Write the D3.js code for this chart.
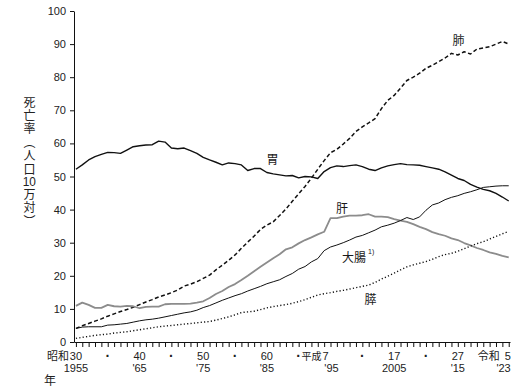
<!DOCTYPE html>
<html lang="ja">
<head>
  <meta charset="utf-8">
  <title>部位別がん死亡率の推移</title>
  <script type="text/javascript" src="https://d3js.org/d3.v7.min.js"></script>
  <style>
    body { margin: 0; background: #fff; }
    #chart { position: relative; width: 520px; height: 389px; }
    .tick-lbl { font-family: "Liberation Sans", Arial, sans-serif; font-size: 11px; }
    .jp { font-family: "Noto Sans CJK JP", sans-serif; }
    /* vertical y-axis title */
    .ytitle {
      position: absolute; left: 22px; top: 96px;
      writing-mode: vertical-rl;
      font-family: "Noto Sans CJK JP", sans-serif;
      font-size: 12px; line-height: 14px;
      letter-spacing: 1.4px;
      color: #222;
    }
    .ytitle .tcy { text-combine-upright: all; font-family: "Liberation Sans", Arial, sans-serif; }
  </style>
</head>
<body>
  <div id="chart"></div>
  <script type="text/javascript">
    // years 1955 (昭和30) .. 2023 (令和5)
    var years = d3.range(1955, 2024);

    var stomach = [52.2, 53.5, 55.0, 56.0, 56.7, 57.3, 57.2, 57.0, 58.0, 59.0,
      59.3, 59.5, 59.6, 60.7, 60.4, 58.6, 58.4, 58.6, 57.8, 57.0,
      55.8, 55.0, 54.3, 53.5, 54.1, 53.9, 53.5, 51.8, 52.4, 52.4,
      51.2, 50.8, 50.5, 50.2, 50.3, 49.6, 50.0, 49.9, 49.4, 51.5,
      52.7, 53.2, 53.0, 53.3, 53.5, 53.0, 52.2, 51.8, 52.6, 53.2,
      53.6, 53.9, 53.6, 53.5, 53.4, 53.0, 52.6, 52.2, 51.4, 50.4,
      49.4, 48.8, 47.6, 46.8, 46.1, 45.7, 44.9, 43.8, 42.6];

    var lung = [4.1, 4.9, 5.6, 6.3, 7.0, 7.8, 8.5, 9.2, 9.8, 10.5,
      11.3, 12.1, 12.8, 13.6, 14.2, 14.9, 15.7, 16.9, 17.5, 18.2,
      19.2, 20.2, 21.8, 23.2, 24.7, 26.3, 28.3, 30.2, 32.0, 34.0,
      35.3, 36.3, 38.2, 40.2, 42.5, 44.8, 47.0, 49.5, 52.2, 54.8,
      57.2, 58.2, 59.8, 61.5, 63.6, 65.0, 66.2, 67.5, 70.5, 73.0,
      74.5, 76.7, 79.0, 80.0, 81.2, 82.7, 83.6, 84.7, 85.8, 87.2,
      86.7, 87.7, 87.0, 88.5, 88.8, 89.2, 90.0, 90.8, 90.0];

    var liver = [10.9, 11.9, 11.2, 10.3, 10.3, 11.2, 10.8, 10.7, 10.9, 10.8,
      10.2, 10.6, 10.7, 10.7, 11.4, 11.5, 11.5, 11.5, 11.6, 11.9,
      12.3, 13.3, 14.5, 15.4, 16.6, 17.5, 18.7, 20.0, 21.4, 22.7,
      24.0, 25.3, 26.5, 28.0, 28.6, 29.8, 30.8, 31.6, 32.5, 33.3,
      37.4, 37.4, 37.9, 38.2, 38.2, 38.3, 38.6, 37.9, 37.9, 37.7,
      37.1, 36.7, 36.3, 35.6, 34.8, 34.1, 33.2, 32.6, 32.1, 31.3,
      30.8, 29.9, 29.2, 28.4, 27.8, 27.1, 26.6, 26.0, 25.6];

    var colorectal = [4.1, 4.5, 4.6, 4.6, 4.6, 5.1, 5.2, 5.4, 5.6, 6.0,
      6.4, 6.7, 6.9, 7.2, 7.6, 8.0, 8.4, 8.8, 9.1, 9.6,
      10.4, 11.0, 11.8, 12.6, 13.3, 14.0, 14.6, 15.4, 16.1, 16.8,
      17.6, 18.2, 18.8, 19.8, 20.7, 22.0, 22.8, 24.2, 25.2, 27.6,
      28.7, 29.3, 30.0, 30.8, 31.7, 32.2, 33.0, 33.8, 34.8, 35.3,
      35.9, 36.7, 37.6, 37.0, 37.8, 39.8, 41.4, 42.0, 43.0, 43.7,
      44.2, 44.9, 45.4, 46.0, 46.7, 46.9, 47.1, 47.2, 47.2];

    var pancreas = [1.1, 1.4, 1.7, 2.0, 2.2, 2.4, 2.7, 2.9, 3.1, 3.4,
      3.7, 4.0, 4.3, 4.6, 4.8, 5.0, 5.2, 5.4, 5.6, 5.8,
      6.0, 6.2, 6.6, 7.1, 7.6, 8.2, 8.9, 9.1, 9.3, 9.8,
      10.3, 10.7, 11.0, 11.3, 11.7, 12.2, 12.8, 13.5, 14.2, 14.6,
      14.9, 15.3, 15.6, 16.0, 16.4, 16.8, 17.2, 18.0, 19.0, 19.9,
      20.8, 21.8, 22.7, 23.3, 23.8, 24.3, 25.0, 25.8, 26.4, 26.8,
      27.4, 28.2, 29.0, 29.7, 30.3, 31.1, 31.9, 32.7, 33.4];

    // x-axis labels
    var labelYears  = [1955, 1960, 1965, 1970, 1975, 1980, 1985, 1990, 1995, 2000, 2005, 2010, 2015, 2023];
    var labelTop    = ["30", "·", "40", "·", "50", "·", "60", "·", "7", "·", "17", "·", "27", "5"];
    var labelBottom = ["1955", "", "'65", "", "'75", "", "'85", "", "'95", "", "2005", "", "'15", "'23"];
    var eraNames = [{ year: 1955, name: "昭和" }, { year: 1995, name: "平成" }, { year: 2023, name: "令和" }];
    var yTicks = [0, 10, 20, 30, 40, 50, 60, 70, 80, 90, 100];

    var width = 520, height = 389;
    var svg = d3.select("#chart").append("svg")
      .attr("width", width).attr("height", height);

    var x = d3.scaleLinear().domain([1954.7, 2023.2]).range([74, 510]);
    var y = d3.scaleLinear().domain([0, 100]).range([342, 11]);

    // y axis
    var yAxis = d3.axisLeft(y).tickValues(yTicks).tickSize(4).tickSizeOuter(0);
    var gy = svg.append("g").attr("transform", "translate(74,0)").call(yAxis);
    gy.select(".domain").attr("stroke", "#111");
    gy.selectAll(".tick line").attr("stroke", "#111");
    gy.selectAll(".tick text").attr("class", "tick-lbl").attr("x", -8)
      .attr("font-size", null).attr("font-family", null).attr("fill", "#222");

    // x axis, a tick for each year
    var xAxis = d3.axisBottom(x).tickValues(years).tickSize(5).tickSizeOuter(0).tickFormat("");
    var gx = svg.append("g").attr("transform", "translate(0,342)").call(xAxis);
    gx.select(".domain").attr("stroke", "#111");
    gx.selectAll(".tick line").attr("stroke", "#111");

    labelYears.forEach(function (yr, i) {
      var dx = 0;
      if (yr == 1995) dx = -5;
      if (yr == 2023) dx = -1;
      var isDot = labelTop[i] == "·";
      svg.append("text").attr("class", "tick-lbl")
        .attr("x", x(yr) + dx).attr("y", isDot ? 361 : 360)
        .attr("text-anchor", "middle")
        .attr("fill", "#222")
        .style("font-weight", isDot ? "bold" : null)
        .style("font-size", isDot ? "14px" : null)
        .text(labelTop[i]);
      if (labelBottom[i]) {
        svg.append("text").attr("class", "tick-lbl")
          .attr("x", yr == 2023 ? x(yr) + 2 : x(yr) + (yr == 1995 ? 1 : 0)).attr("y", 372)
          .attr("text-anchor", yr == 2023 ? "end" : "middle")
          .attr("fill", "#222")
          .text(labelBottom[i]);
      }
    });
    eraNames.forEach(function (e) {
      var ex = e.year == 1955 ? x(e.year) - 7 : x(e.year) - 9;
      svg.append("text").attr("class", "jp")
        .attr("x", ex).attr("y", 360)
        .attr("text-anchor", "end")
        .attr("fill", "#222")
        .attr("font-size", e.year == 1995 ? 10 : 11)
        .text(e.name);
    });
    svg.append("text").attr("class", "jp")
      .attr("x", 50).attr("y", 385).attr("text-anchor", "middle")
      .attr("fill", "#222")
      .attr("font-size", 12).text("年");

    // y axis title (vertical, "10" kept horizontal)
    d3.select("#chart").append("div")
      .attr("class", "ytitle")
      .html("死亡率（人口<span class=\"tcy\">10</span>万対）");

    // lines
    var series = [
      { name: "胃", values: stomach, color: "#111", width: 1.4, dash: null },
      { name: "肺", values: lung, color: "#111", width: 1.5, dash: "4,2.5" },
      { name: "肝", values: liver, color: "#8c8c8c", width: 1.8, dash: null },
      { name: "大腸", values: colorectal, color: "#111", width: 1, dash: null },
      { name: "膵", values: pancreas, color: "#111", width: 1.4, dash: "1.2,2.2" }
    ];
    var line = d3.line()
      .x(function (d, i) { return x(years[i]); })
      .y(function (d) { return y(d); });

    series.forEach(function (s) {
      svg.append("path")
        .datum(s.values)
        .attr("fill", "none")
        .attr("stroke", s.color)
        .attr("stroke-width", s.width)
        .attr("stroke-dasharray", s.dash)
        .attr("stroke-linejoin", "round")
        .attr("d", line);
    });

    // series labels
    var seriesLabels = [
      { t: "肺", yr: 2015.1, v: 91.5 },
      { t: "胃", yr: 1985.9, v: 55.5 },
      { t: "肝", yr: 1996.8, v: 40.5 },
      { t: "大腸", yr: 1998.7, v: 25.8 },
      { t: "膵", yr: 2001.3, v: 13.0 }
    ];
    seriesLabels.forEach(function (l) {
      svg.append("text").attr("class", "jp")
        .attr("x", x(l.yr)).attr("y", y(l.v))
        .attr("text-anchor", "middle")
        .attr("dominant-baseline", "central")
        .attr("fill", "#1a1a1a")
        .attr("font-size", 12)
        .text(l.t);
    });
    svg.append("text").attr("class", "tick-lbl")
      .attr("x", x(1998.7) + 14).attr("y", y(25.8) - 3)
      .attr("fill", "#1a1a1a")
      .style("font-size", "7px")
      .text("1)");
  </script>
</body>
</html>
